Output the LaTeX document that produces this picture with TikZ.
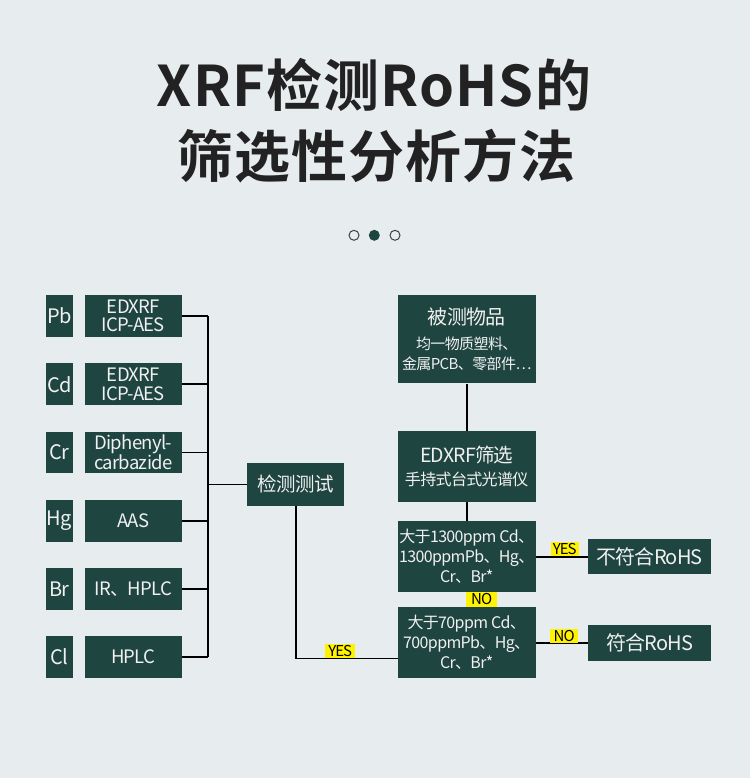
\documentclass[tikz,border=0pt]{standalone}
\usepackage{fontspec}
\setmainfont{Noto Sans CJK SC}
\newfontfamily\titlefont{Noto Sans CJK SC Bold}[LetterSpace=2]
\newfontfamily\boxfont{Noto Sans CJK SC}[LetterSpace=-4]
\newfontfamily\tagfont{Noto Sans CJK SC}[LetterSpace=-7]
\definecolor{bg}{HTML}{E7ECEF}
\definecolor{boxc}{HTML}{1F4541}
\definecolor{ttl}{HTML}{222222}
\definecolor{hl}{HTML}{FFF200}
\tikzset{
  gbox/.style={fill=boxc, text=white!94!black, inner sep=0pt, align=center, font=\boxfont},
  elbox/.style={gbox, minimum width=26.7pt, minimum height=41.7pt, font=\boxfont\fontsize{20}{20}\selectfont},
  mbox/.style={gbox, minimum width=96.7pt, minimum height=41.7pt, font=\boxfont\fontsize{18.5}{18.3}\selectfont},
  rbox/.style={gbox, minimum width=138pt},
  wire/.style={draw=black, line width=1.8pt},
  tag/.style={fill=hl, text=black, inner sep=0pt, minimum height=14pt, font=\tagfont\fontsize{15}{15}\selectfont},
}
\begin{document}
\begin{tikzpicture}[x=1pt,y=-1pt]
\fill[bg] (0,0) rectangle (750,778);
\useasboundingbox (0,0) rectangle (750,778);
% title
\node[text=ttl, font=\titlefont\fontsize{56}{56}\selectfont] (t1) at (374,85) {XRF检测RoHS的};
\node[text=ttl, font=\titlefont\fontsize{56}{56}\selectfont] (t2) at (376.5,156.5) {筛选性分析方法};
% dots
\draw[ttl!85, line width=1pt] (354,235.3) circle (5);
\fill[boxc] (374.3,235.3) circle (5.5);
\draw[ttl!85, line width=1pt] (395,235.3) circle (5);
% left column
\foreach \n/\el/\m/\y in {pb/Pb/{EDXRF\\ICP-AES}/315.8, cd/Cd/{EDXRF\\ICP-AES}/384.2, cr/Cr/{Diphenyl-\\carbazide}/452.5, hg/Hg/AAS/520.8, br/Br/{IR、HPLC}/589.2, cl/Cl/HPLC/656.8}{
  \node[elbox] (e\n) at (59.3,\y) {\el};
  \node[mbox] (m\n) at (133.3,\y) {\m};
}
\coordinate (bustop) at (207.7,315.8);
\node[gbox, minimum width=96.7pt, minimum height=42.4pt, font=\boxfont\fontsize{19.5}{20}\selectfont] (dt) at (295.7,484.5) {检测测试};
\foreach \n in {pb,cd,cr,hg,br,cl}{
  \draw[wire] (m\n.east) -- (bustop |- m\n.east);
}
\draw[wire] (bustop |- mpb.east) -- (bustop |- mcl.east);
\draw[wire] (bustop |- dt.west) -- (dt.west);
% right column
\node[rbox, minimum height=88.3pt, font=\boxfont\fontsize{15}{20}\selectfont] (b1) at (466.7,339.2) {{\fontsize{20}{20}\selectfont 被测物品}\\[5pt]均一物质塑料、\\金属PCB、零部件…};
\node[rbox, minimum height=70.7pt, font=\boxfont\fontsize{16}{23.5}\selectfont] (b2) at (466.7,466.3) {{\fontsize{19.5}{20}\selectfont EDXRF筛选}\\手持式台式光谱仪};
\node[rbox, minimum height=71pt, font=\boxfont\fontsize{16}{20}\selectfont] (b3) at (466.7,556.2) {大于1300ppm Cd、\\1300ppmPb、Hg、\\Cr、Br*};
\node[rbox, minimum height=71pt, font=\boxfont\fontsize{16}{20}\selectfont] (b4) at (466.7,642.2) {大于70ppm Cd、\\700ppmPb、Hg、\\Cr、Br*};
\node[gbox, minimum width=122.7pt, minimum height=35.3pt, font=\boxfont\fontsize{20}{20}\selectfont] (nc) at (649.7,556.7) {不符合RoHS};
\node[gbox, minimum width=122.7pt, minimum height=35.7pt, font=\boxfont\fontsize{20}{20}\selectfont] (ok) at (649.7,642.8) {符合RoHS};
\draw[wire] (b1) -- (b2);
\draw[wire] (b2) -- (b3);
\draw[wire] (b3) -- (b4);
\draw[wire] (b3.east |- nc.west) -- (nc.west);
\draw[wire] (b4.east |- ok.west) -- (ok.west);
\draw[wire] (dt.south) |- ([yshift=-16.3pt]b4.west);
% tags
\node[tag, minimum width=27.6pt, anchor=south west] (y1) at (550.7,556) {YES};
\node[tag, minimum width=28pt, anchor=south west] (n2) at (550,643.5) {NO};
\node[tag, minimum width=31pt, minimum height=15pt, anchor=north west] (n1) at (466,591.7) {NO};
\node[tag, minimum width=30pt, anchor=south west] (y2) at (325,658) {YES};
\end{tikzpicture}
\end{document}
